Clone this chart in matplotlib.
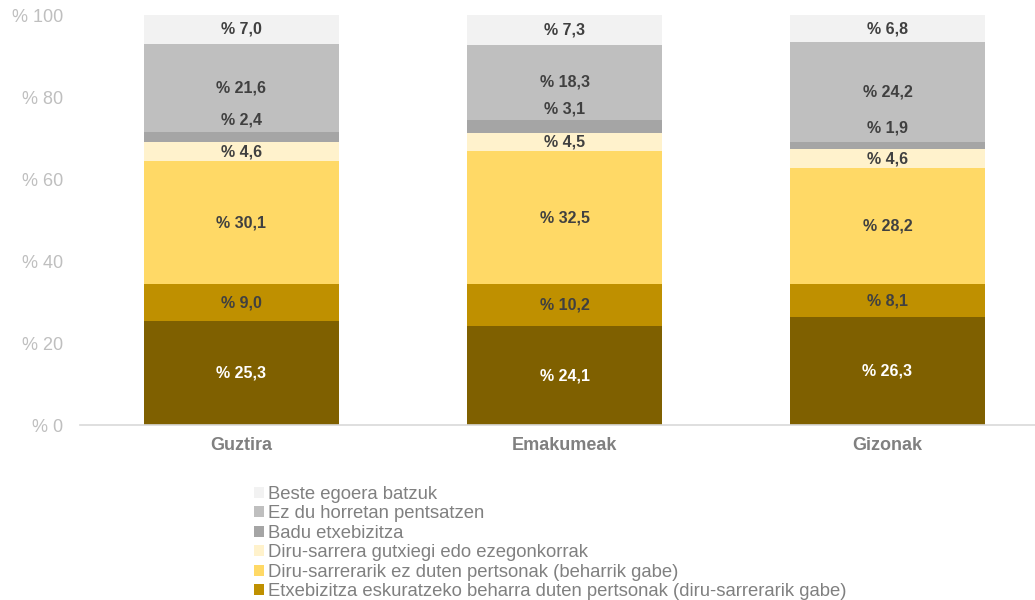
import matplotlib
matplotlib.use("Agg")
import matplotlib.pyplot as plt
from matplotlib.patches import Patch

plt.rcParams['font.family'] = ['Liberation Sans', 'DejaVu Sans']

categories = ["Guztira", "Emakumeak", "Gizonak"]
series_names = [
    "",  # bottom series (no legend entry in the reference)
    "Etxebizitza eskuratzeko beharra duten pertsonak (diru-sarrerarik gabe)",
    "Diru-sarrerarik ez duten pertsonak (beharrik gabe)",
    "Diru-sarrera gutxiegi edo ezegonkorrak",
    "Badu etxebizitza",
    "Ez du horretan pentsatzen",
    "Beste egoera batzuk",
]
s0 = [25.3, 24.1, 26.3]
s1 = [9.0, 10.2, 8.1]
s2 = [30.1, 32.5, 28.2]
s3 = [4.6, 4.5, 4.6]
s4 = [2.4, 3.1, 1.9]
s5 = [21.6, 18.3, 24.2]
s6 = [7.0, 7.3, 6.8]
series = [s0, s1, s2, s3, s4, s5, s6]
colors = ["#7F6000", "#BF9000", "#FFD966", "#FFF2CC", "#A5A5A5", "#BFBFBF", "#F2F2F2"]
yticks = [0, 20, 40, 60, 80, 100]

W, H = 1035, 600
fig = plt.figure(figsize=(W / 100, H / 100), dpi=100)
ax = fig.add_axes([80 / W, 175 / H, (1049 - 80) / W, (425 - 15) / H])

x = list(range(len(categories)))
bottoms = [0.0] * len(categories)
for i, (vals, col) in enumerate(zip(series, colors)):
    ax.bar(x, vals, width=0.604, bottom=bottoms, color=col, linewidth=0, zorder=2)
    for j, v in enumerate(vals):
        yc = bottoms[j] + v / 2
        if i == 4:
            yc += 4.3
        tcol = "white" if i == 0 else "#404040"
        ax.text(x[j], yc, "% " + f"{v:.1f}".replace(".", ","), ha="center", va="center",
                fontsize=11.5, fontweight="bold", color=tcol, zorder=3)
    bottoms = [b + v for b, v in zip(bottoms, vals)]

ax.set_xlim(-0.5, 2.5)
ax.set_ylim(0, 100)
ax.set_yticks(yticks)
ax.set_yticklabels(["% " + str(t) for t in yticks], fontsize=13, color="#BFBFBF")
ax.set_xticks(x)
ax.set_xticklabels(categories, fontsize=13, fontweight="bold", color="#808080")
ax.tick_params(axis="y", length=0, pad=12)
ax.tick_params(axis="x", length=0, pad=9)
for side in ["top", "right", "left"]:
    ax.spines[side].set_visible(False)
ax.spines["bottom"].set_color("#D9D9D9")
ax.spines["bottom"].set_linewidth(1.2)

handles = [Patch(facecolor=colors[i], edgecolor="none", label=series_names[i]) for i in range(6, 0, -1)]
leg = fig.legend(handles=handles, loc="upper left", bbox_to_anchor=(254 / W, 1 - 486 / H),
                 frameon=False, fontsize=13.3, labelcolor="#808080", handlelength=0.55,
                 handleheight=0.55, handletextpad=0.2, labelspacing=0.13, borderpad=0,
                 borderaxespad=0)

fig.savefig("out.png", dpi=100)
